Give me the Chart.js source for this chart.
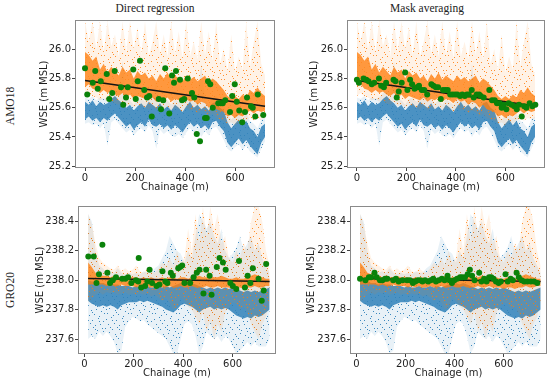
<!DOCTYPE html>
<html>
<head>
<meta charset="utf-8">
<script src="https://cdn.jsdelivr.net/npm/chart.js@4.4.1/dist/chart.umd.min.js"></script>
<style>
  html, body { margin: 0; padding: 0; background: #fff; }
  body { width: 550px; height: 382px; position: relative; overflow: hidden; }
  canvas { position: absolute; }
  .lbl {
    position: absolute; white-space: nowrap; color: #222;
    font-family: 'Liberation Serif', 'DejaVu Serif', serif; font-size: 11.5px;
    transform: translate(-50%, -50%);
  }
  .row { transform: translate(-50%, -50%) rotate(-90deg); }
</style>
</head>
<body>
<div class="lbl" style="left:155px;top:8px">Direct regression</div>
<div class="lbl" style="left:427px;top:8px">Mask averaging</div>
<div class="lbl row" style="left:10px;top:106px">AMO18</div>
<div class="lbl row" style="left:10px;top:290px">GRO20</div>

<canvas id="amoDirect" width="250" height="182" style="left:30px;top:11px"></canvas>
<canvas id="amoMask" width="246" height="182" style="left:302px;top:11px"></canvas>
<canvas id="groDirect" width="250" height="182" style="left:33px;top:197px"></canvas>
<canvas id="groMask" width="245" height="182" style="left:305px;top:197px"></canvas>

<script>
// ---- tick labels ----
const xTicks = [0, 200, 400, 600];
const amoYTicks = [25.2, 25.4, 25.6, 25.8, 26.0];
const groYTicks = [237.6, 237.8, 238.0, 238.2, 238.4];

// ---- AMO18 raw returns (band edges, every 15 m) ----
const amoChainage = [0,15,30,45,60,75,90,105,120,135,150,165,180,195,210,225,240,255,270,285,300,315,330,345,360,375,390,405,420,435,450,465,480,495,510,525,540,555,570,585,600,615,630,645,660,675,690,705,720];
const amoBlueTop = [25.67,25.66,25.68,25.65,25.67,25.66,25.67,25.70,25.72,25.70,25.92,25.66,25.65,25.62,25.66,25.67,25.64,25.68,25.70,25.76,25.66,25.63,25.65,25.62,25.66,25.64,25.62,25.66,25.68,25.64,25.66,25.90,25.65,25.62,25.67,25.68,25.64,25.62,25.56,25.52,25.55,25.57,25.53,25.56,25.51,25.49,25.46,25.52,25.54];
const amoBlueHi = [25.64,25.62,25.65,25.61,25.64,25.62,25.63,25.66,25.68,25.65,25.63,25.60,25.62,25.58,25.61,25.63,25.60,25.64,25.62,25.60,25.63,25.59,25.61,25.58,25.62,25.60,25.57,25.61,25.64,25.60,25.62,25.59,25.61,25.58,25.63,25.64,25.60,25.58,25.50,25.46,25.49,25.52,25.48,25.51,25.46,25.44,25.40,25.47,25.49];
const amoBlueLo = [25.52,25.54,25.51,25.53,25.50,25.53,25.51,25.54,25.56,25.53,25.50,25.47,25.49,25.45,25.48,25.50,25.47,25.52,25.48,25.47,25.49,25.46,25.48,25.45,25.48,25.46,25.43,25.47,25.50,25.47,25.49,25.46,25.48,25.45,25.50,25.51,25.47,25.44,25.36,25.33,25.36,25.39,25.35,25.38,25.34,25.31,25.28,25.36,25.40];
const amoBlueBottom = [25.49,25.50,25.48,25.49,25.46,25.49,25.34,25.50,25.52,25.49,25.46,25.43,25.45,25.41,25.44,25.46,25.43,25.48,25.44,25.32,25.45,25.42,25.44,25.41,25.40,25.42,25.39,25.43,25.46,25.43,25.45,25.40,25.44,25.41,25.46,25.47,25.43,25.38,25.32,25.30,25.33,25.35,25.31,25.34,25.30,25.28,25.26,25.32,25.37];
const amoOrangeTop = [26.19,26.05,26.19,26.00,26.19,25.98,26.19,26.02,26.10,25.95,26.19,25.98,26.19,26.00,26.15,25.96,26.19,25.95,26.05,26.19,25.97,26.10,25.95,26.19,25.96,26.12,25.94,26.19,25.95,26.05,25.93,26.19,25.96,26.12,25.92,26.19,25.90,26.00,25.85,26.10,25.84,25.95,25.86,26.19,25.88,26.05,26.19,25.90,25.82];
const amoOrangeHi = [25.98,25.96,25.92,25.95,25.86,25.90,25.84,25.88,25.85,25.82,25.88,25.84,25.86,25.80,25.85,25.82,25.84,25.80,25.82,25.78,25.83,25.80,25.84,25.79,25.82,25.80,25.78,25.82,25.79,25.81,25.78,25.80,25.82,25.77,25.80,25.78,25.75,25.72,25.68,25.66,25.68,25.66,25.69,25.67,25.72,25.70,25.74,25.70,25.68];
const amoOrangeLo = [25.74,25.76,25.73,25.72,25.70,25.72,25.70,25.71,25.69,25.68,25.70,25.67,25.69,25.66,25.68,25.67,25.66,25.65,25.67,25.64,25.66,25.65,25.67,25.64,25.66,25.65,25.63,25.66,25.64,25.65,25.62,25.64,25.63,25.60,25.62,25.59,25.58,25.57,25.54,25.55,25.53,25.55,25.54,25.56,25.58,25.56,25.58,25.57,25.58];
const amoOrangeBottom = [25.68,25.70,25.68,25.67,25.65,25.66,25.64,25.65,25.63,25.62,25.64,25.61,25.62,25.60,25.62,25.61,25.60,25.59,25.61,25.58,25.60,25.59,25.61,25.58,25.60,25.59,25.57,25.60,25.58,25.59,25.56,25.58,25.57,25.54,25.56,25.53,25.52,25.51,25.49,25.50,25.48,25.50,25.49,25.51,25.53,25.51,25.53,25.52,25.53];

// ---- AMO18 estimates ----
const amoDirectX = [0,9,31,41,51,63,87,97,109,119,144,153,164,171,193,203,211,220,237,248,257,267,295,304,313,321,337,348,356,364,380,388,397,411,428,437,447,460,480,487,492,501,511,533,543,551,561,580,589,599,607,617,629,640,648,664,671,681,691,713];
const amoDirectY = [25.87,25.69,25.77,25.85,25.73,25.78,25.83,25.66,25.70,25.85,25.74,25.62,25.67,25.74,25.86,25.66,25.78,25.92,25.72,25.67,25.68,25.54,25.66,25.59,25.65,25.87,25.56,25.82,25.77,25.85,25.79,25.65,25.66,25.80,25.70,25.67,25.42,25.37,25.53,25.53,25.78,25.76,25.60,25.63,25.63,25.63,25.65,25.57,25.68,25.76,25.64,25.58,25.50,25.57,25.67,25.61,25.60,25.54,25.69,25.55];
const amoMaskX = [0,8,27,38,47,60,70,89,98,109,118,148,156,161,169,181,195,204,215,223,233,243,251,262,272,284,301,309,319,328,339,348,358,367,377,387,397,406,417,426,436,444,452,464,472,484,494,500,512,535,546,557,566,577,585,593,604,613,625,636,646,655,666,676,685,698,709,721];
const amoMaskY = [25.79,25.77,25.80,25.79,25.78,25.76,25.77,25.80,25.75,25.74,25.77,25.79,25.78,25.67,25.71,25.77,25.84,25.72,25.79,25.76,25.73,25.74,25.75,25.72,25.72,25.69,25.76,25.75,25.74,25.74,25.66,25.72,25.72,25.72,25.69,25.69,25.69,25.69,25.68,25.69,25.68,25.69,25.69,25.72,25.67,25.69,25.69,25.68,25.67,25.72,25.65,25.65,25.63,25.63,25.60,25.62,25.59,25.63,25.62,25.61,25.59,25.62,25.54,25.61,25.60,25.63,25.61,25.62];
const amoFitX = [0, 720];
const amoDirectFit = [25.786, 25.610];
const amoMaskFit = [25.786, 25.611];

// ---- GRO20 raw returns ----
const groChainage = [15,30,45,60,75,90,105,120,135,150,165,180,195,210,225,240,255,270,285,300,315,330,345,360,375,390,405,420,435,450,465,480,495,510,525,540,555,570,585,600,615,630,645,660,675,690,705,720,735,750];
const groBlueTop = [238.45,238.40,238.20,238.10,238.08,238.05,238.06,238.05,238.08,238.05,238.04,238.05,238.04,238.05,238.04,238.06,238.05,238.05,238.08,238.10,238.15,238.20,238.30,238.25,238.20,238.18,238.12,238.20,238.15,238.30,238.45,238.40,238.35,238.40,238.30,238.25,238.35,238.20,238.15,238.18,238.22,238.30,238.20,238.25,238.30,238.20,238.25,238.15,238.10,238.05];
const groBlueHi = [238.00,237.99,237.99,237.98,237.98,237.97,237.98,237.97,237.97,237.96,237.96,237.96,237.95,237.96,237.95,237.95,237.96,237.95,237.95,237.96,237.95,237.96,237.95,237.96,237.97,237.98,237.98,237.97,237.98,237.97,237.96,237.95,237.94,237.95,237.94,237.95,237.94,237.95,237.94,237.95,237.94,237.93,237.92,237.93,237.92,237.93,237.92,237.93,237.94,237.95];
const groBlueLo = [237.86,237.84,237.83,237.82,237.83,237.82,237.83,237.82,237.80,237.83,237.84,237.85,237.85,237.85,237.86,237.85,237.86,237.85,237.84,237.83,237.82,237.80,237.79,237.78,237.80,237.83,237.84,237.83,237.82,237.80,237.78,237.80,237.81,237.82,237.80,237.81,237.80,237.81,237.80,237.78,237.76,237.75,237.74,237.75,237.74,237.76,237.75,237.76,237.78,237.80];
const groBlueBottom = [237.60,237.62,237.60,237.65,237.62,237.65,237.62,237.58,237.50,237.52,237.68,237.72,237.75,237.74,237.72,237.73,237.70,237.68,237.66,237.64,237.62,237.60,237.55,237.50,237.50,237.60,237.70,237.72,237.70,237.62,237.50,237.55,237.65,237.62,237.60,237.62,237.58,237.62,237.60,237.55,237.50,237.52,237.55,237.58,237.55,237.58,237.55,237.55,237.55,237.60];
const groOrangeTop = [238.45,238.38,238.25,238.15,238.12,238.10,238.08,238.07,238.10,238.06,238.08,238.06,238.07,238.10,238.06,238.05,238.08,238.06,238.05,238.08,238.12,238.10,238.15,238.10,238.20,238.12,238.15,238.35,238.20,238.45,238.25,238.50,238.30,238.50,238.35,238.45,238.25,238.30,238.15,238.12,238.20,238.15,238.25,238.20,238.40,238.50,238.50,238.40,238.20,238.10];
const groOrangeHi = [238.12,238.09,238.05,238.04,238.03,238.03,238.02,238.03,238.02,238.02,238.03,238.02,238.02,238.02,238.01,238.02,238.01,238.02,238.01,238.01,238.02,238.01,238.02,238.02,238.01,238.02,238.02,238.01,238.02,238.02,238.03,238.02,238.02,238.03,238.02,238.02,238.03,238.02,238.01,238.01,238.02,238.01,238.01,238.02,238.03,238.04,238.03,238.02,238.01,238.01];
const groOrangeLo = [237.97,237.97,237.97,237.97,237.97,237.96,237.97,237.96,237.96,237.97,237.96,237.96,237.96,237.95,237.96,237.95,237.96,237.95,237.95,237.96,237.95,237.95,237.96,237.95,237.95,237.96,237.95,237.95,237.96,237.95,237.95,237.95,237.96,237.95,237.95,237.96,237.95,237.95,237.95,237.94,237.95,237.95,237.94,237.95,237.95,237.96,237.95,237.95,237.96,237.96];
const groOrangeBottom = [237.85,237.88,237.90,237.92,237.90,237.92,237.91,237.92,237.90,237.91,237.92,237.90,237.91,237.90,237.91,237.90,237.91,237.89,237.90,237.88,237.86,237.88,237.85,237.80,237.82,237.88,237.86,237.82,237.80,237.75,237.70,237.78,237.65,237.72,237.60,237.70,237.65,237.78,237.82,237.85,237.84,237.80,237.82,237.78,237.70,237.65,237.60,237.70,237.75,237.85];

// ---- GRO20 estimates ----
const groDirectX = [16,38,49,59,73,93,104,115,128,153,166,177,190,209,218,220,230,246,255,264,274,292,304,316,328,336,350,358,380,388,396,405,428,442,455,466,482,493,507,515,536,547,561,572,591,601,615,626,650,661,672,682,705,718,726,736];
const groDirectY = [238.16,238.16,237.98,238.04,238.24,238.05,237.98,238.00,238.02,238.01,238.01,238.02,237.98,238.00,237.99,238.15,237.95,237.96,237.99,238.07,237.98,237.96,237.97,238.06,237.99,237.98,238.05,238.03,238.08,238.09,238.10,237.98,237.98,238.02,238.05,238.07,237.91,238.07,238.03,237.90,238.09,238.15,238.12,238.07,237.98,237.96,237.94,238.13,237.95,238.03,237.98,238.08,238.01,237.86,237.93,238.11];
const groMaskX = [15,37,51,60,74,83,96,106,117,126,150,161,172,188,206,218,230,240,250,260,269,280,292,303,313,324,335,348,359,371,379,389,399,410,422,431,442,453,462,471,481,500,509,520,530,540,549,558,568,579,588,607,616,628,637,652,661,672,683,696,710,723,736];
const groMaskY = [238.01,238.00,238.02,238.02,238.05,238.02,238.00,238.00,238.01,238.01,238.00,238.01,237.99,238.00,238.00,238.00,237.98,237.99,238.00,238.00,237.99,238.00,237.99,238.00,238.01,237.99,238.00,238.01,238.00,238.03,238.00,237.98,238.00,238.01,238.02,238.02,238.02,238.04,238.07,238.03,238.00,238.05,237.99,238.01,237.99,238.02,238.02,238.01,237.99,237.98,237.99,238.04,237.99,238.01,238.00,238.05,238.02,238.00,237.99,237.99,237.99,237.99,237.98];
const groFitX = [15, 750];
const groDirectFit = [238.012, 237.990];
const groMaskFit = [238.012, 237.990];

// ---- styling ----
const BLUE = '31,119,180';
const ORANGE = '255,127,14';
const GREEN = '#0a820a';
const TEXT = '#1e1e1e';
const tickFont = { family: "'DejaVu Sans', sans-serif", size: 10 };

// hand-placed dot layout for the scatter texture (24x24 tile)
const tileDots = [[1,2],[6,0],[11,3],[17,1],[22,4],[3,7],[9,6],[14,8],[19,7],[0,11],[7,12],[12,10],
  [16,13],[21,11],[4,15],[10,17],[15,16],[20,18],[2,20],[8,22],[13,21],[18,23],[23,20],[5,10],
  [18,4],[11,19],[1,16],[22,14],[7,3],[14,12]];

// sparse region: faint tint plus scattered dots
function sparse(rgb) {
  const c = document.createElement('canvas');
  c.width = 24; c.height = 24;
  const g = c.getContext('2d');
  g.fillStyle = `rgba(${rgb},0.1)`;
  g.fillRect(0, 0, 24, 24);
  g.fillStyle = `rgba(${rgb},0.85)`;
  tileDots.forEach(([x, y]) => g.fillRect(x, y, 1, 1));
  return g.createPattern(c, 'repeat');
}

// dense region: strong colour with small light gaps
function dense(rgb) {
  const c = document.createElement('canvas');
  c.width = 24; c.height = 24;
  const g = c.getContext('2d');
  g.fillStyle = `rgba(${rgb},0.78)`;
  g.fillRect(0, 0, 24, 24);
  tileDots.forEach(([x, y]) => g.clearRect(x, y, 1, 1));
  g.fillStyle = `rgba(${rgb},0.3)`;
  tileDots.forEach(([x, y]) => g.fillRect(x, y, 1, 1));
  return g.createPattern(c, 'repeat');
}

const pts = (xs, ys) => xs.map((x, i) => ({ x, y: ys[i] }));

function datasets(c, b, o, greenX, greenY, fitX, fitY) {
  const edge = (ys, order, fill, bg) => ({
    data: pts(c, ys), order, fill, backgroundColor: bg || 'transparent',
    borderWidth: 0, pointRadius: 0,
  });
  return [
    { data: pts(greenX, greenY), order: 0, showLine: false, pointRadius: 3,
      pointBackgroundColor: GREEN, pointBorderWidth: 0 },
    { data: pts(fitX, fitY), order: 1, borderColor: '#141414', borderWidth: 1.5, pointRadius: 0, fill: false },
    edge(o.hi, 2, 3, dense(ORANGE)),
    edge(o.lo, 2, false),
    edge(o.top, 3, 5, sparse(ORANGE)),
    edge(o.bottom, 3, false),
    edge(b.hi, 4, 7, dense(BLUE)),
    edge(b.lo, 4, false),
    edge(b.top, 5, 9, sparse(BLUE)),
    edge(b.bottom, 5, false),
  ];
}

const frame = {
  id: 'frame',
  afterDatasetsDraw(chart) {
    const { ctx, chartArea: a } = chart;
    ctx.save();
    ctx.strokeStyle = '#8a8a8a';
    ctx.lineWidth = 1;
    ctx.strokeRect(a.left - 0.5, a.top - 0.5, a.right - a.left + 1, a.bottom - a.top + 1);
    ctx.restore();
  },
};

function scales(xMin, xMax, yMin, yMax, yTicks, titlePad) {
  return {
    x: {
      type: 'linear', min: xMin, max: xMax,
      afterBuildTicks: (s) => { s.ticks = xTicks.map((v) => ({ value: v })); },
      afterFit: (s) => { s.height = 26; },
      ticks: { color: TEXT, font: tickFont, padding: 1, maxRotation: 0, callback: (v) => String(v) },
      grid: { drawOnChartArea: false, tickLength: 4, color: '#444' },
      border: { display: false },
      title: { display: true, text: 'Chainage (m)', color: TEXT, font: tickFont, padding: 0 },
    },
    y: {
      type: 'linear', min: yMin, max: yMax,
      afterBuildTicks: (s) => { s.ticks = yTicks.map((v) => ({ value: v })); },
      afterFit: (s) => { s.width = 46; },
      ticks: { color: TEXT, font: tickFont, padding: 1, callback: (v) => v.toFixed(1) },
      grid: { drawOnChartArea: false, tickLength: 4, color: '#444' },
      border: { display: false },
      title: { display: true, text: 'WSE (m MSL)', color: TEXT, font: tickFont, padding: { top: titlePad, bottom: 0 } },
    },
  };
}

function panel(id, data, sc, padRight) {
  return new Chart(document.getElementById(id), {
    type: 'line',
    data: { datasets: data },
    options: {
      responsive: false,
      animation: false,
      events: [],
      layout: { padding: { top: 10, right: padRight, bottom: 0, left: 0 } },
      plugins: { legend: { display: false }, tooltip: { enabled: false } },
      scales: sc,
    },
    plugins: [frame],
  });
}

const amoBlue = { top: amoBlueTop, hi: amoBlueHi, lo: amoBlueLo, bottom: amoBlueBottom };
const amoOrange = { top: amoOrangeTop, hi: amoOrangeHi, lo: amoOrangeLo, bottom: amoOrangeBottom };
const groBlue = { top: groBlueTop, hi: groBlueHi, lo: groBlueLo, bottom: groBlueBottom };
const groOrange = { top: groOrangeTop, hi: groOrangeHi, lo: groOrangeLo, bottom: groOrangeBottom };

panel('amoDirect', datasets(amoChainage, amoBlue, amoOrange, amoDirectX, amoDirectY, amoFitX, amoDirectFit),
  scales(-36, 756, 25.195, 26.192, amoYTicks, 8), 6);
panel('amoMask', datasets(amoChainage, amoBlue, amoOrange, amoMaskX, amoMaskY, amoFitX, amoMaskFit),
  scales(-36, 756, 25.195, 26.192, amoYTicks, 6), 4);
panel('groDirect', datasets(groChainage, groBlue, groOrange, groDirectX, groDirectY, groFitX, groDirectFit),
  scales(-21.75, 771.75, 237.505, 238.497, groYTicks, 1), 8);
panel('groMask', datasets(groChainage, groBlue, groOrange, groMaskX, groMaskY, groFitX, groMaskFit),
  scales(-21.75, 771.75, 237.505, 238.497, groYTicks, 0), 2);
</script>
</body>
</html>
